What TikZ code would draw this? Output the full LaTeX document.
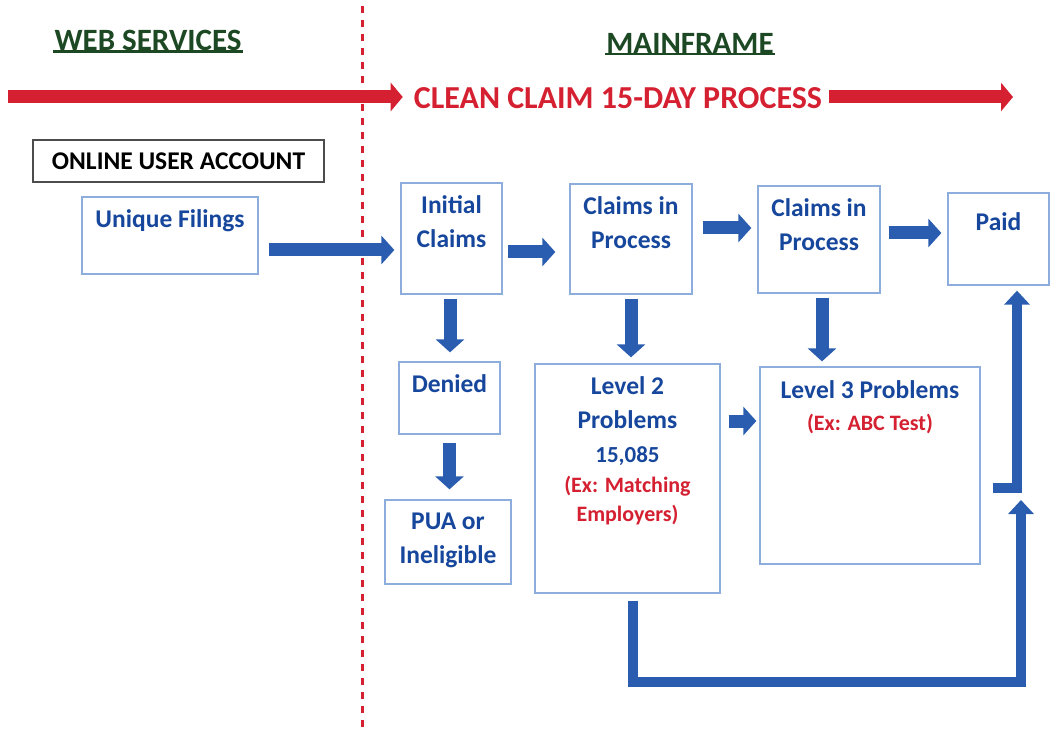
\documentclass[tikz,border=0pt]{standalone}
\usepackage{fontspec}
\setmainfont{Carlito}
\usepackage{tikz}
\usetikzlibrary{arrows.meta,positioning,calc}
\definecolor{ffblue}{HTML}{2A5DB0}
\definecolor{fftext}{HTML}{17479C}
\definecolor{ffedge}{HTML}{8DAEDC}
\definecolor{ffred}{HTML}{D42030}
\definecolor{ffgreen}{HTML}{1D4824}

\begin{document}
\begin{tikzpicture}[
  x=1pt, y=-1pt,
  head/.style={inner sep=1pt, text=ffgreen, font=\fontsize{31}{36}\selectfont\bfseries},
  banner/.style={inner sep=0pt, text=ffred, font=\fontsize{32}{36}\selectfont\bfseries},
  stage/.style={draw=ffedge, line width=1.3pt, fill=white, inner sep=0pt},
  txt/.style={anchor=north, yshift=-13pt, inner sep=0pt, align=center,
              text=fftext, font=\fontsize{25.5}{34}\selectfont\bfseries},
  barr/.style={draw=ffblue, line width=13pt, -{Triangle[width=28pt,length=13pt]}},
  rarr/.style={draw=ffred, line width=13pt, -{Triangle[width=28pt,length=12pt]}},
  larr/.style={draw=ffblue, line width=10pt, -{Triangle[width=25pt,length=14pt]}},
  divider/.style={draw=ffred, line width=3pt, dash pattern=on 7pt off 7pt}
]
\useasboundingbox (0,0) rectangle (1050,730);

% Headings
\node[head] (web) at (148,40) {WEB SERVICES};
\node[head] (main) at (690,43) {MAINFRAME};
\draw[ffgreen, line width=2.5pt] (web.south west) -- (web.south east);
\draw[ffgreen, line width=2.5pt] (main.south west) -- (main.south east);

% Divider
\coordinate (divtop) at (362,6);
\coordinate (divbot) at (362,730);
\draw[divider] (divtop) -- (divbot);

% Process banner
\node[banner] (clean) at (618,98) {CLEAN CLAIM 15-DAY PROCESS};
\coordinate (rstart) at (8,97);
\coordinate (rend) at (1013,97);
\draw[rarr, shorten >=11pt] (rstart) -- (rstart -| clean.west);
\draw[rarr, shorten <=7pt] (rstart -| clean.east) -- (rend);

% Web services side
\node[draw=black!70, line width=1.5pt, minimum width=291, minimum height=42,
      font=\fontsize{25.5}{30}\selectfont\bfseries] (acct) at (178.5,161) {ONLINE USER ACCOUNT};
\node[stage, minimum width=176, minimum height=77,
      label={[txt]north:Unique Filings}] (uniq) at (170,235.5) {};

% Mainframe stages
\node[stage, minimum width=101, minimum height=111,
      label={[txt]north:Initial\\Claims}] (init) at (451.5,238.5) {};
\node[stage, minimum width=122, minimum height=110,
      label={[txt]north:Claims in\\Process}] (cip1) at (631,239) {};
\node[stage, minimum width=122, minimum height=107,
      label={[txt]north:Claims in\\Process}] (cip2) at (819,239.5) {};
\node[stage, minimum width=101, minimum height=92,
      label={[txt, yshift=-7pt]north:Paid}] (paid) at (998.5,239) {};
\node[stage, minimum width=101, minimum height=72,
      label={[txt]north:Denied}] (deny) at (449.5,398) {};
\node[stage, minimum width=126, minimum height=84,
      label={[txt]north:PUA or\\Ineligible}] (pua) at (448,542) {};
\node[stage, minimum width=185, minimum height=229,
      label={[txt]north:Level 2\\Problems\\{\fontsize{23}{30}\selectfont 15,085}\\[-4pt]
             {\color{ffred}\fontsize{22}{30}\selectfont (Ex: Matching}\\[-5pt]
             {\color{ffred}\fontsize{22}{30}\selectfont Employers)}}] (lvl2) at (627.5,478.5) {};
\node[stage, minimum width=220, minimum height=197,
      label={[txt, yshift=-1pt]north:Level 3 Problems\\[-2pt]{\color{ffred}\fontsize{22}{30}\selectfont (Ex: ABC Test)}}] (lvl3) at (870,465.5) {};

% Arrows
\draw[barr, shorten <=10pt, shorten >=6pt] ([yshift=-14.5pt]uniq.east) -- ([yshift=-14.5pt]uniq.east -| init.west);
\draw[barr, shorten <=5pt, shorten >=14pt] ([yshift=-13.5pt]init.east) -- ([yshift=-13.5pt]init.east -| cip1.west);
\draw[barr, shorten <=10pt, shorten >=6pt] ([yshift=11pt]cip1.east) -- ([yshift=11pt]cip1.east -| cip2.west);
\draw[barr, shorten <=8pt, shorten >=6pt] ([yshift=6.5pt]cip2.east) -- ([yshift=6.5pt]cip2.east -| paid.west);
\draw[barr, shorten <=4pt, shorten >=9pt] ([xshift=-1.5pt]init.south) -- ([xshift=-1.5pt]init.south |- deny.north);
\draw[barr, shorten <=4pt, shorten >=6pt] (cip1.south) -- (cip1.south |- lvl2.north);
\draw[barr, shorten <=4pt, shorten >=5pt] ([xshift=3pt]cip2.south) -- ([xshift=3pt]cip2.south |- lvl3.north);
\draw[barr, shorten <=8pt, shorten >=10pt] (deny.south) -- (deny.south |- pua.north);
\draw[barr, shorten <=8pt, shorten >=3pt] ([yshift=57.5pt]lvl2.east) -- ([yshift=57.5pt]lvl2.east -| lvl3.west);

% Routes to paid
\coordinate (merge) at (1021,500);
\draw[larr, shorten <=7pt] ([xshift=5.5pt]lvl2.south) -- ++(0,88) -| (merge);
\draw[larr, shorten <=12pt, shorten >=5pt] ([yshift=-22.5pt]lvl3.east) -| ([xshift=18.5pt]paid.south);
\end{tikzpicture}
\end{document}
